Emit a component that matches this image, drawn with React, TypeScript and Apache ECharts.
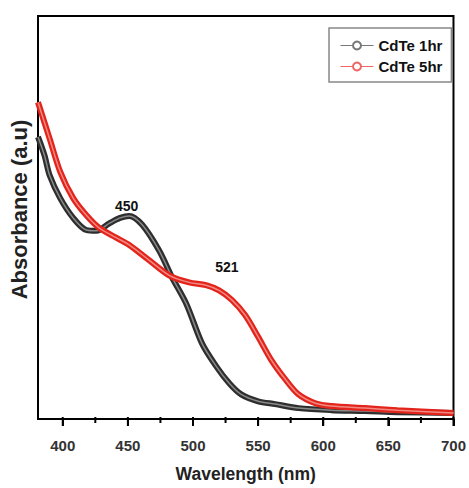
import React, { useEffect, useRef } from "react";
import * as echarts from "echarts";

const wavelength1hr = [381, 386, 390, 398, 408, 418, 426, 436, 444, 451, 461, 474, 484, 495, 507, 518, 528, 537, 550, 563, 581, 606, 632, 657, 700];
const absorbance1hr = [0.7, 0.654, 0.604, 0.548, 0.499, 0.469, 0.467, 0.486, 0.499, 0.504, 0.482, 0.418, 0.351, 0.285, 0.187, 0.13, 0.088, 0.061, 0.044, 0.037, 0.027, 0.022, 0.02, 0.017, 0.015];
const wavelength5hr = [381, 390, 398, 408, 418, 428, 441, 451, 466, 482, 497, 510, 520, 530, 540, 550, 560, 571, 581, 594, 606, 632, 657, 700];
const absorbance5hr = [0.786, 0.695, 0.614, 0.548, 0.506, 0.474, 0.45, 0.432, 0.395, 0.356, 0.339, 0.332, 0.319, 0.295, 0.258, 0.204, 0.147, 0.098, 0.061, 0.039, 0.032, 0.027, 0.022, 0.015];
const seriesNames = ["CdTe 1hr", "CdTe 5hr"];
const majorTicks = [400, 450, 500, 550, 600, 650, 700];
const minorTicks = [425, 475, 525, 575, 625, 675];
const peakLabels = [
  { text: "450", coord: [449, 0.528] },
  { text: "521", coord: [526, 0.376] },
];

const FONT = "'Liberation Sans', Arial, sans-serif";

export default function App() {
  const ref = useRef<HTMLDivElement>(null);
  useEffect(() => {
    if (!ref.current) return;
    const chart = echarts.init(ref.current, undefined, { renderer: "svg" });
    const d1 = wavelength1hr.map((x, i) => [x, absorbance1hr[i]]);
    const d5 = wavelength5hr.map((x, i) => [x, absorbance5hr[i]]);
    chart.setOption({
      animation: false,
      backgroundColor: "#ffffff",
      grid: { left: 38, right: 13, top: 16, bottom: 65, show: true, borderColor: "#000", borderWidth: 2 },
      legend: {
        orient: "vertical",
        left: 329,
        top: 28,
        padding: [10, 9, 8, 11],
        itemGap: 6,
        itemWidth: 33,
        itemHeight: 10,
        borderColor: "#888",
        borderWidth: 1.5,
        textStyle: { fontFamily: FONT, fontWeight: "bold", fontSize: 15, color: "#111" },
        data: [
          { name: seriesNames[0], lineStyle: { color: "#777", width: 1 } },
          { name: seriesNames[1], lineStyle: { color: "#e66", width: 1 } },
        ],
      },
      xAxis: {
        type: "value",
        min: 381,
        max: 700,
        name: "Wavelength (nm)",
        nameLocation: "middle",
        nameGap: 46,
        nameTextStyle: { fontFamily: FONT, fontWeight: "bold", fontSize: 17.5, color: "#222" },
        axisLine: { show: true, onZero: false, lineStyle: { color: "#000", width: 2 } },
        axisTick: { show: true, inside: false, length: 7, lineStyle: { color: "#000", width: 2 } },
        axisLabel: {
          show: true,
          margin: 19,
          showMinLabel: false,
          fontFamily: FONT,
          fontWeight: "bold",
          fontSize: 15,
          color: "#333",
        },
        splitLine: { show: false },
      },
      yAxis: {
        type: "value",
        min: 0,
        max: 1,
        name: "Absorbance (a.u)",
        nameLocation: "middle",
        nameGap: 8,
        nameTextStyle: { fontFamily: FONT, fontWeight: "bold", fontSize: 22, color: "#222", padding: [0, 0, 0, 16] },
        axisLine: { show: true, onZero: false, lineStyle: { color: "#000", width: 2 } },
        axisTick: { show: false },
        axisLabel: { show: false },
        splitLine: { show: false },
      },
      series: [
        {
          name: seriesNames[0],
          type: "line",
          data: d1,
          smooth: 0.3,
          symbol: "emptyCircle",
          symbolSize: 6,
          showSymbol: false,
          color: "#777",
          lineStyle: { color: "#2e2e2e", width: 6 },
          z: 2,
          markPoint: {
            symbol: "circle",
            symbolSize: 0,
            label: { show: true, formatter: (p: any) => p.name, fontFamily: FONT, fontWeight: "bold", fontSize: 14, color: "#111" },
            data: [{ name: peakLabels[0].text, coord: peakLabels[0].coord }],
          },
        },
        {
          name: "_1hr_core",
          type: "line",
          data: d1,
          smooth: 0.3,
          showSymbol: false,
          lineStyle: { color: "#8a8a8a", width: 1.5 },
          z: 3,
        },
        {
          name: seriesNames[1],
          type: "line",
          data: d5,
          smooth: 0.3,
          symbol: "emptyCircle",
          symbolSize: 6,
          showSymbol: false,
          color: "#e66",
          lineStyle: { color: "#e3241c", width: 6 },
          z: 4,
          markPoint: {
            symbol: "circle",
            symbolSize: 0,
            label: { show: true, formatter: (p: any) => p.name, fontFamily: FONT, fontWeight: "bold", fontSize: 14, color: "#111" },
            data: [{ name: peakLabels[1].text, coord: peakLabels[1].coord }],
          },
        },
        {
          name: "_5hr_core",
          type: "line",
          data: d5,
          smooth: 0.3,
          showSymbol: false,
          lineStyle: { color: "#f08a80", width: 1.5 },
          z: 5,
        },
      ],
    });
    try {
      const makeTick = (v: number, len: number) => {
        const p = chart.convertToPixel({ xAxisIndex: 0, yAxisIndex: 0 } as any, [v, 0]) as number[];
        if (!p || !isFinite(p[0]) || !isFinite(p[1])) return null;
        return {
          type: "rect",
          silent: true,
          z: 100,
          zlevel: 0,
          shape: { x: p[0] - 1, y: p[1] - 2, width: 2, height: len + 2 },
          style: { fill: "#000" },
        };
      };
      const ticks = [
        ...majorTicks.map((v) => makeTick(v, 7)),
        ...minorTicks.map((v) => makeTick(v, 4)),
      ].filter(Boolean);
      chart.setOption({ graphic: { elements: ticks } });
    } catch (e) {
      // ignore
    }
    return () => chart.dispose();
  }, []);
  return <div ref={ref} style={{ position: "fixed", left: 0, top: 0, width: 469, height: 488 }} />;
}
